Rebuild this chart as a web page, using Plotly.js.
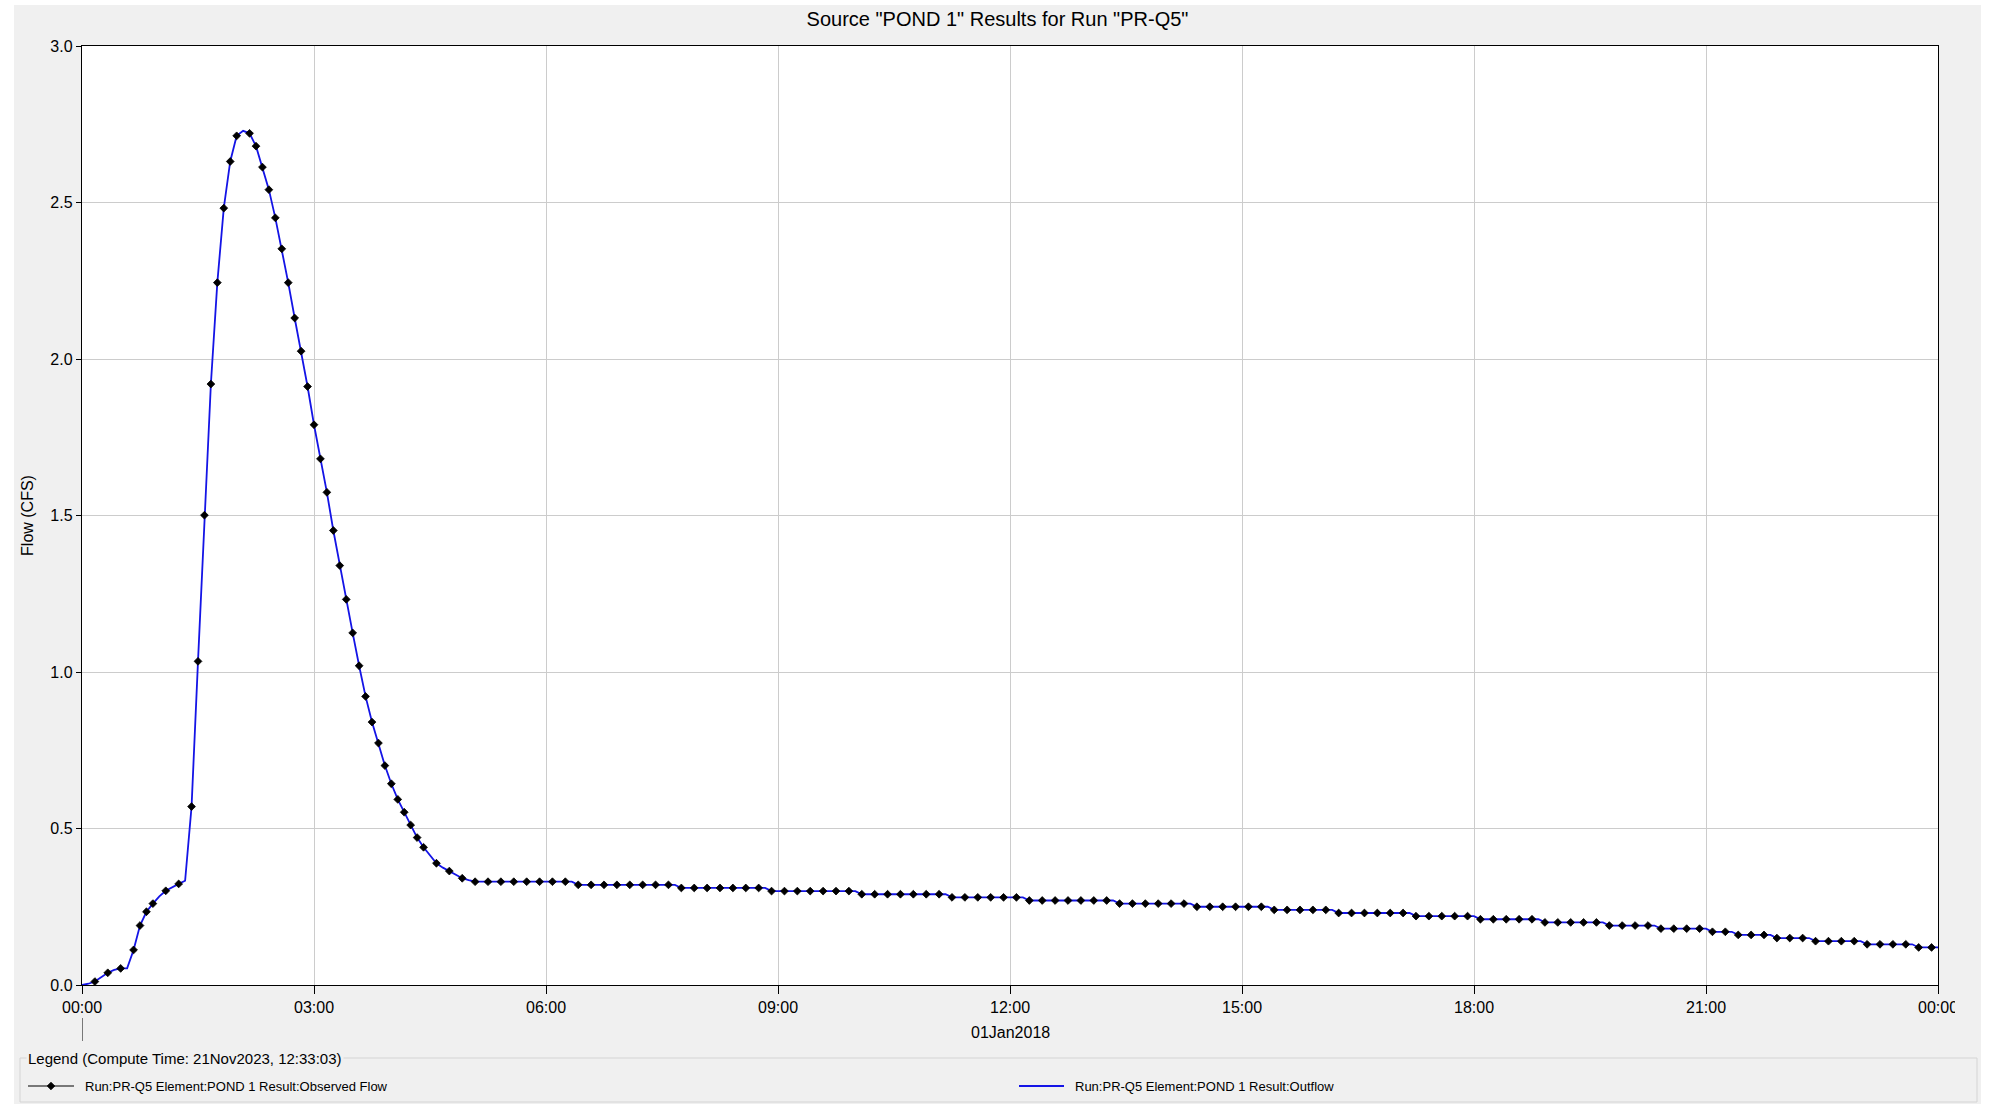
<!DOCTYPE html>
<html>
<head>
<meta charset="utf-8">
<script src="https://cdn.plot.ly/plotly-3.0.1.min.js"></script>
<style>
html, body { margin: 0; padding: 0; background: #ffffff; }
#chart { position: absolute; left: 14px; top: 5px; width: 1967px; height: 1099px; }
</style>
</head>
<body>
<div id="chart"></div>
<script>
// ---------------- DATA ----------------
const runStart = '2018-01-01 00:00';
const runEnd = '2018-01-02 00:00';
const outflowStepMin = 5;

// Outflow (CFS) every 5 minutes, 00:00 .. 24:00
const outflowCfs = [
  0.000, 0.004, 0.011, 0.025, 0.039, 0.048, 0.053, 0.053, 0.112, 0.190, 0.234, 0.260, 0.283, 0.301, 0.313, 0.323, 0.333,
  0.570, 1.034, 1.501, 1.920, 2.244, 2.482, 2.631, 2.713, 2.729, 2.721, 2.680, 2.613, 2.541, 2.451, 2.352, 2.244, 2.131, 2.025, 1.912, 1.790,
  1.681, 1.574, 1.452, 1.340, 1.232, 1.125, 1.020, 0.922, 0.840, 0.773, 0.701, 0.643, 0.593, 0.552, 0.511, 0.471, 0.440, 0.413, 0.389, 0.375, 0.364, 0.351, 0.341, 0.335,
  0.33, 0.33, 0.33, 0.33, 0.33, 0.33, 0.33, 0.33, 0.33, 0.33, 0.33, 0.33, 0.33, 0.33, 0.33, 0.33,
  0.32, 0.32, 0.32, 0.32, 0.32, 0.32, 0.32, 0.32, 0.32, 0.32, 0.32, 0.32, 0.32, 0.32, 0.32, 0.32,
  0.31, 0.31, 0.31, 0.31, 0.31, 0.31, 0.31, 0.31, 0.31, 0.31, 0.31, 0.31, 0.31, 0.31,
  0.30, 0.30, 0.30, 0.30, 0.30, 0.30, 0.30, 0.30, 0.30, 0.30, 0.30, 0.30, 0.30, 0.30,
  0.29, 0.29, 0.29, 0.29, 0.29, 0.29, 0.29, 0.29, 0.29, 0.29, 0.29, 0.29, 0.29, 0.29,
  0.28, 0.28, 0.28, 0.28, 0.28, 0.28, 0.28, 0.28, 0.28, 0.28, 0.28, 0.28,
  0.27, 0.27, 0.27, 0.27, 0.27, 0.27, 0.27, 0.27, 0.27, 0.27, 0.27, 0.27, 0.27, 0.27,
  0.26, 0.26, 0.26, 0.26, 0.26, 0.26, 0.26, 0.26, 0.26, 0.26, 0.26, 0.26,
  0.25, 0.25, 0.25, 0.25, 0.25, 0.25, 0.25, 0.25, 0.25, 0.25, 0.25, 0.25,
  0.24, 0.24, 0.24, 0.24, 0.24, 0.24, 0.24, 0.24, 0.24, 0.24,
  0.23, 0.23, 0.23, 0.23, 0.23, 0.23, 0.23, 0.23, 0.23, 0.23, 0.23, 0.23,
  0.22, 0.22, 0.22, 0.22, 0.22, 0.22, 0.22, 0.22, 0.22, 0.22,
  0.21, 0.21, 0.21, 0.21, 0.21, 0.21, 0.21, 0.21, 0.21, 0.21,
  0.20, 0.20, 0.20, 0.20, 0.20, 0.20, 0.20, 0.20, 0.20, 0.20,
  0.19, 0.19, 0.19, 0.19, 0.19, 0.19, 0.19, 0.19,
  0.18, 0.18, 0.18, 0.18, 0.18, 0.18, 0.18, 0.18,
  0.17, 0.17, 0.17, 0.17,
  0.16, 0.16, 0.16, 0.16, 0.16, 0.16,
  0.15, 0.15, 0.15, 0.15, 0.15, 0.15,
  0.14, 0.14, 0.14, 0.14, 0.14, 0.14, 0.14, 0.14,
  0.13, 0.13, 0.13, 0.13, 0.13, 0.13, 0.13, 0.13,
  0.12, 0.12, 0.12, 0.12
];

// Observed flow markers: minutes after run start, and CFS
const observedMin = [
  10, 20, 30, 40, 45, 50, 55, 65, 75,
  85, 90, 95, 100, 105, 110, 115, 120,
  130, 135, 140, 145, 150, 155, 160, 165, 170, 175, 180, 185, 190, 195,
  200, 205, 210, 215, 220, 225, 230, 235, 240, 245, 250, 255, 260, 265,
  275, 285, 295,
  305, 315, 325, 335, 345, 355, 365, 375,
  385, 395, 405, 415, 425, 435, 445, 455,
  465, 475, 485, 495, 505, 515, 525,
  535, 545, 555, 565, 575, 585, 595,
  605, 615, 625, 635, 645, 655, 665,
  675, 685, 695, 705, 715, 725,
  735, 745, 755, 765, 775, 785, 795,
  805, 815, 825, 835, 845, 855,
  865, 875, 885, 895, 905, 915,
  925, 935, 945, 955, 965,
  975, 985, 995, 1005, 1015, 1025,
  1035, 1045, 1055, 1065, 1075,
  1085, 1095, 1105, 1115, 1125,
  1135, 1145, 1155, 1165, 1175,
  1185, 1195, 1205, 1215,
  1225, 1235, 1245, 1255,
  1265, 1275,
  1285, 1295, 1305,
  1315, 1325, 1335,
  1345, 1355, 1365, 1375,
  1385, 1395, 1405, 1415,
  1425, 1435
];
const observedCfs = [
  0.011, 0.039, 0.053, 0.112, 0.190, 0.234, 0.260, 0.301, 0.323,
  0.570, 1.034, 1.501, 1.920, 2.244, 2.482, 2.631, 2.713,
  2.721, 2.680, 2.613, 2.541, 2.451, 2.352, 2.244, 2.131, 2.025, 1.912, 1.790, 1.681, 1.574, 1.452,
  1.340, 1.232, 1.125, 1.020, 0.922, 0.840, 0.773, 0.701, 0.643, 0.593, 0.552, 0.511, 0.471, 0.440,
  0.389, 0.364, 0.341,
  0.33, 0.33, 0.33, 0.33, 0.33, 0.33, 0.33, 0.33,
  0.32, 0.32, 0.32, 0.32, 0.32, 0.32, 0.32, 0.32,
  0.31, 0.31, 0.31, 0.31, 0.31, 0.31, 0.31,
  0.30, 0.30, 0.30, 0.30, 0.30, 0.30, 0.30,
  0.29, 0.29, 0.29, 0.29, 0.29, 0.29, 0.29,
  0.28, 0.28, 0.28, 0.28, 0.28, 0.28,
  0.27, 0.27, 0.27, 0.27, 0.27, 0.27, 0.27,
  0.26, 0.26, 0.26, 0.26, 0.26, 0.26,
  0.25, 0.25, 0.25, 0.25, 0.25, 0.25,
  0.24, 0.24, 0.24, 0.24, 0.24,
  0.23, 0.23, 0.23, 0.23, 0.23, 0.23,
  0.22, 0.22, 0.22, 0.22, 0.22,
  0.21, 0.21, 0.21, 0.21, 0.21,
  0.20, 0.20, 0.20, 0.20, 0.20,
  0.19, 0.19, 0.19, 0.19,
  0.18, 0.18, 0.18, 0.18,
  0.17, 0.17,
  0.16, 0.16, 0.16,
  0.15, 0.15, 0.15,
  0.14, 0.14, 0.14, 0.14,
  0.13, 0.13, 0.13, 0.13,
  0.12, 0.12
];

const tickHours = [0, 3, 6, 9, 12, 15, 18, 21, 24];
const tickLabels = ['00:00', '03:00', '06:00', '09:00', '12:00', '15:00', '18:00', '21:00', '00:00'];
const dayLabel = '01Jan2018';
const chartTitle = 'Source "POND 1" Results for Run "PR-Q5"';
const yTitle = 'Flow (CFS)';
const legendHeading = 'Legend (Compute Time: 21Nov2023, 12:33:03)';
const nameObserved = 'Run:PR-Q5 Element:POND 1 Result:Observed Flow';
const nameOutflow = 'Run:PR-Q5 Element:POND 1 Result:Outflow';

// ---------------- HELPERS ----------------
const t0 = Date.UTC(2018, 0, 1, 0, 0);
function minToDate(m) {
  const d = new Date(t0 + m * 60000);
  return d.toISOString().slice(0, 16).replace('T', ' ');
}
const outflowTimes = outflowCfs.map((_, i) => minToDate(i * outflowStepMin));
const observedTimes = observedMin.map(minToDate);

// geometry (pixels inside the chart div)
const W = 1967, H = 1099;
const M = { l: 68, r: 43, t: 41, b: 119, autoexpand: false };
const plotW = W - M.l - M.r;
const plotH = H - M.t - M.b;
const px = X => (X - M.l) / plotW;
const py = Y => (H - M.b - Y) / plotH;

const FONT = 'Liberation Sans, Arial, sans-serif';
const BLUE = '#1414e6';
const MARKER_SIZE = 6;

// ---------------- TRACES ----------------
const traces = [
  {
    type: 'scatter', mode: 'lines', name: nameOutflow,
    x: outflowTimes, y: outflowCfs,
    line: { color: BLUE, width: 1.8 },
    showlegend: false, hoverinfo: 'skip'
  },
  {
    type: 'scatter', mode: 'markers', name: nameObserved,
    x: observedTimes, y: observedCfs,
    marker: { symbol: 'diamond', size: MARKER_SIZE, color: '#000000', line: { color: '#000000', width: 0.8 } },
    showlegend: false, hoverinfo: 'skip'
  }
];

// ---------------- LEGEND (drawn as shapes + text) ----------------
const legRowY = 1081;   // legend item row (div px)
const legItems = [
  { name: nameObserved, x0: 14, x1: 60, color: '#000000', width: 1, marker: true, textX: 69 },
  { name: nameOutflow, x0: 1005, x1: 1050, color: BLUE, width: 1.8, marker: false, textX: 1059 }
];

const shapes = [
  // legend titled border
  {
    type: 'rect', xref: 'paper', yref: 'paper',
    x0: px(6), x1: px(1963), y0: py(1053), y1: py(1097),
    line: { color: '#d4d4d4', width: 1 }, fillcolor: 'rgba(0,0,0,0)', layer: 'below'
  },
  // day separator tick under 00:00
  {
    type: 'line', xref: 'x', yref: 'paper',
    x0: runStart, x1: runStart, y0: py(1013), y1: py(1036),
    line: { color: '#000000', width: 1 }
  },
  // panel edge that clips the last time label, as in the original
  {
    type: 'rect', xref: 'paper', yref: 'paper', layer: 'above',
    x0: px(1941), x1: px(1967), y0: py(990), y1: py(1020),
    line: { width: 0 }, fillcolor: '#f0f0f0'
  }
];
const annotations = [
  {
    text: dayLabel, xref: 'x', x: minToDate(12 * 60), yref: 'paper', y: py(1027),
    xanchor: 'center', yanchor: 'middle', showarrow: false,
    font: { family: FONT, size: 16, color: '#000000' }
  },
  {
    text: legendHeading, xref: 'paper', x: px(12), yref: 'paper', y: py(1053),
    xanchor: 'left', yanchor: 'middle', showarrow: false,
    bgcolor: '#f0f0f0', borderpad: 1,
    font: { family: FONT, size: 15, color: '#000000' }
  }
];
legItems.forEach(it => {
  shapes.push({
    type: 'line', xref: 'paper', yref: 'paper',
    x0: px(it.x0), x1: px(it.x1), y0: py(legRowY), y1: py(legRowY),
    line: { color: it.color, width: it.width }
  });
  if (it.marker) {
    const r = 3.8;
    shapes.push({
      type: 'path', xref: 'paper', yref: 'paper',
      xsizemode: 'pixel', ysizemode: 'pixel',
      xanchor: px((it.x0 + it.x1) / 2), yanchor: py(legRowY),
      path: `M0,${r} L${r},0 L0,${-r} L${-r},0 Z`,
      fillcolor: '#000000', line: { color: '#000000', width: 0.8 }
    });
  }
  annotations.push({
    text: it.name, xref: 'paper', x: px(it.textX), yref: 'paper', y: py(legRowY),
    xanchor: 'left', yanchor: 'middle', showarrow: false,
    font: { family: FONT, size: 13, color: '#000000' }
  });
});

// ---------------- LAYOUT ----------------
const layout = {
  width: W, height: H,
  margin: M,
  paper_bgcolor: '#f0f0f0',
  plot_bgcolor: '#ffffff',
  font: { family: FONT, color: '#000000', size: 16 },
  showlegend: false,
  title: {
    text: chartTitle,
    font: { family: FONT, size: 20, color: '#000000' },
    x: 0.5, xref: 'container', xanchor: 'center',
    y: 1 - 14 / H, yref: 'container', yanchor: 'middle'
  },
  xaxis: {
    type: 'date',
    range: [runStart, runEnd],
    tickvals: tickHours.map(h => minToDate(h * 60)),
    ticktext: tickLabels,
    ticks: 'outside', ticklen: 8, tickcolor: '#000000', tickwidth: 1,
    tickfont: { family: FONT, size: 16, color: '#000000' },
    showline: true, linecolor: '#000000', linewidth: 1.2, mirror: true,
    showgrid: true, gridcolor: '#cccccc', gridwidth: 1,
    zeroline: false, fixedrange: true, automargin: false
  },
  yaxis: {
    range: [0, 3],
    tick0: 0, dtick: 0.5, tickformat: '.1f',
    ticks: 'outside', ticklen: 5, tickcolor: '#000000', tickwidth: 1,
    tickfont: { family: FONT, size: 16, color: '#000000' },
    showline: true, linecolor: '#000000', linewidth: 1.2, mirror: true,
    showgrid: true, gridcolor: '#cccccc', gridwidth: 1,
    zeroline: false, fixedrange: true, automargin: false,
    title: { text: yTitle, font: { family: FONT, size: 16, color: '#000000' }, standoff: 12 }
  },
  shapes: shapes,
  annotations: annotations
};

Plotly.newPlot('chart', traces, layout, { displayModeBar: false, staticPlot: true });
</script>
</body>
</html>
